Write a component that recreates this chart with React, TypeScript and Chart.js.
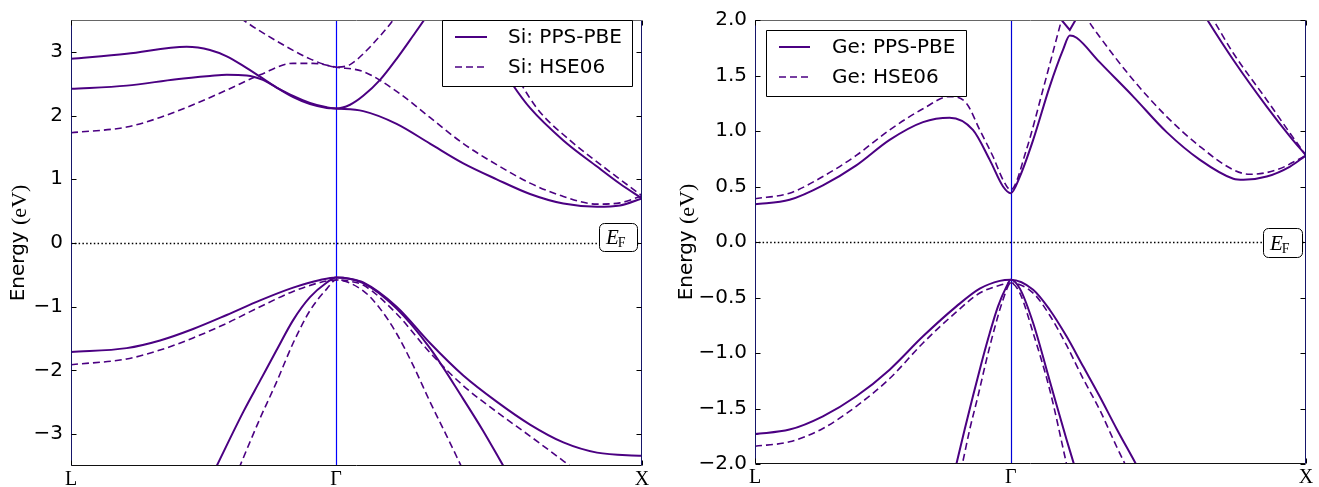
import React, { useEffect, useRef } from "react";
import { Chart, registerables } from "chart.js";

Chart.register(...registerables);

type Pt = [number, number];

// ---- k-path (L -> Gamma -> X) ----
const K_MAX = 1.866;
const X_TICKS = [0, 0.866, 1.866];
const X_TICK_LABELS = ["L", "Γ", "X"];

// ---- y ticks ----
const SI_Y_TICKS = [-3, -2, -1, 0, 1, 2, 3];
const SI_Y_TICK_LABELS = ["−3", "−2", "−1", "0", "1", "2", "3"];
const GE_Y_TICKS = [-2, -1.5, -1, -0.5, 0, 0.5, 1, 1.5, 2];
const GE_Y_TICK_LABELS = ["−2.0", "−1.5", "−1.0", "−0.5", "0.0", "0.5", "1.0", "1.5", "2.0"];

// ---- Si : PPS-PBE (solid) ----  L-Γ segments (…_LG) and Γ-X segments (…_GX)
const SI_PBE_C1_LG: Pt[] = [[0, 2.89], [0.182, 2.97], [0.378, 3.08], [0.454, 3.03], [0.509, 2.93], [0.563, 2.78], [0.618, 2.61], [0.672, 2.44], [0.726, 2.29], [0.781, 2.18], [0.836, 2.12], [0.866, 2.11]];
const SI_PBE_C1_GX: Pt[] = [[0.955, 2.07], [1.064, 1.87], [1.173, 1.56], [1.282, 1.25], [1.391, 1.0], [1.5, 0.77], [1.609, 0.62], [1.719, 0.57], [1.794, 0.59], [1.866, 0.7]];
const SI_PBE_C2_LG: Pt[] = [[0, 2.42], [0.182, 2.47], [0.345, 2.57], [0.454, 2.62], [0.509, 2.64], [0.574, 2.63], [0.627, 2.56], [0.672, 2.44], [0.726, 2.31], [0.781, 2.2], [0.836, 2.13], [0.866, 2.11]];
const SI_PBE_C2_GX: Pt[] = [[0.912, 2.17], [0.955, 2.31], [1.01, 2.56], [1.064, 2.89], [1.119, 3.26], [1.154, 3.5], [1.2, 3.83]];
const SI_PBE_C3: Pt[] = [[1.28, 3.8], [1.317, 3.5], [1.391, 2.89], [1.444, 2.48], [1.5, 2.12], [1.609, 1.61], [1.719, 1.2], [1.794, 0.93], [1.866, 0.7]];
const SI_PBE_V1_LG: Pt[] = [[0, -1.71], [0.182, -1.65], [0.291, -1.53], [0.399, -1.35], [0.509, -1.13], [0.618, -0.9], [0.726, -0.7], [0.814, -0.58], [0.866, -0.54]];
const SI_PBE_V1_GX: Pt[] = [[0.91, -0.56], [0.955, -0.62], [1.064, -1.0], [1.173, -1.57], [1.282, -2.08], [1.391, -2.49], [1.5, -2.85], [1.609, -3.13], [1.719, -3.29], [1.866, -3.34]];
const SI_PBE_V2_LG: Pt[] = [[0.4, -4.25], [0.476, -3.5], [0.563, -2.65], [0.618, -2.16], [0.672, -1.68], [0.726, -1.21], [0.781, -0.85], [0.836, -0.62], [0.866, -0.54]];
const SI_PBE_V2_GX: Pt[] = [[0.955, -0.63], [1.064, -1.03], [1.173, -1.65], [1.282, -2.45], [1.347, -2.95], [1.413, -3.5], [1.48, -4.05]];

// ---- Si : HSE06 (dashed) ----
const SI_HSE_C1_LG: Pt[] = [[0, 1.73], [0.182, 1.82], [0.291, 1.97], [0.399, 2.17], [0.509, 2.4], [0.618, 2.64], [0.726, 2.82], [0.791, 2.82], [0.866, 2.76]];
const SI_HSE_C1_GX: Pt[] = [[0.955, 2.69], [1.064, 2.38], [1.173, 1.97], [1.282, 1.56], [1.391, 1.23], [1.5, 0.94], [1.609, 0.73], [1.719, 0.61], [1.794, 0.63], [1.866, 0.74]];
const SI_HSE_C2_LG: Pt[] = [[0.47, 3.85], [0.563, 3.5], [0.672, 3.17], [0.781, 2.89], [0.836, 2.79], [0.866, 2.76]];
const SI_HSE_C2_GX: Pt[] = [[0.912, 2.8], [0.955, 2.97], [1.01, 3.25], [1.053, 3.5], [1.1, 3.85]];
const SI_HSE_C3: Pt[] = [[1.3, 3.85], [1.353, 3.5], [1.424, 2.89], [1.522, 2.12], [1.631, 1.61], [1.739, 1.2], [1.866, 0.74]];
const SI_HSE_V1_LG: Pt[] = [[0, -1.91], [0.182, -1.82], [0.291, -1.68], [0.399, -1.49], [0.509, -1.26], [0.618, -1.0], [0.726, -0.76], [0.814, -0.62], [0.866, -0.58]];
const SI_HSE_V1_GX: Pt[] = [[0.91, -0.6], [0.955, -0.66], [1.064, -1.11], [1.173, -1.72], [1.282, -2.24], [1.391, -2.65], [1.5, -3.03], [1.631, -3.5], [1.7, -3.75]];
const SI_HSE_V2_LG: Pt[] = [[0.48, -4.33], [0.552, -3.5], [0.618, -2.75], [0.672, -2.18], [0.726, -1.57], [0.781, -1.06], [0.836, -0.72], [0.866, -0.58]];
const SI_HSE_V2_GX: Pt[] = [[0.955, -0.75], [1.01, -1.03], [1.064, -1.42], [1.119, -1.93], [1.173, -2.49], [1.228, -3.03], [1.275, -3.5], [1.32, -3.95]];

// ---- Ge : PPS-PBE (solid) ----
const GE_PBE_C1_LG: Pt[] = [[0, 0.34], [0.117, 0.38], [0.23, 0.51], [0.343, 0.69], [0.456, 0.92], [0.569, 1.08], [0.659, 1.12], [0.738, 1.01], [0.795, 0.74], [0.84, 0.5], [0.866, 0.44]];
const GE_PBE_C1_GX: Pt[] = [[0.897, 0.59], [0.942, 0.92], [0.998, 1.4], [1.043, 1.73], [1.066, 1.86], [1.089, 1.84], [1.167, 1.62], [1.281, 1.31], [1.394, 0.99], [1.507, 0.74], [1.62, 0.57], [1.654, 0.56], [1.733, 0.59], [1.812, 0.68], [1.866, 0.78]];
const GE_PBE_C2: Pt[] = [[1.01, 2.09], [1.066, 1.91], [1.105, 2.09]];
const GE_PBE_C3: Pt[] = [[1.5, 2.14], [1.532, 2.0], [1.62, 1.64], [1.733, 1.22], [1.812, 0.95], [1.866, 0.78]];
const GE_PBE_V1_LG: Pt[] = [[0, -1.73], [0.117, -1.69], [0.23, -1.57], [0.343, -1.39], [0.456, -1.15], [0.569, -0.85], [0.682, -0.58], [0.761, -0.42], [0.829, -0.35], [0.866, -0.34]];
const GE_PBE_V1_GX: Pt[] = [[0.942, -0.43], [0.998, -0.61], [1.055, -0.85], [1.111, -1.12], [1.167, -1.39], [1.224, -1.68], [1.29, -2.0], [1.33, -2.2]];
const GE_PBE_V2_LG: Pt[] = [[0.64, -2.45], [0.682, -2.0], [0.71, -1.69], [0.738, -1.39], [0.767, -1.09], [0.795, -0.82], [0.823, -0.58], [0.852, -0.4], [0.866, -0.34]];
const GE_PBE_V2_GX: Pt[] = [[0.897, -0.42], [0.942, -0.73], [0.998, -1.25], [1.055, -1.78], [1.08, -2.0], [1.11, -2.28]];

// ---- Ge : HSE06 (dashed) ----
const GE_HSE_C1_LG: Pt[] = [[0, 0.39], [0.117, 0.44], [0.23, 0.59], [0.343, 0.78], [0.456, 1.01], [0.569, 1.2], [0.659, 1.31], [0.716, 1.25], [0.761, 1.01], [0.806, 0.77], [0.84, 0.56], [0.866, 0.47]];
const GE_HSE_C1_GX: Pt[] = [[0.919, 0.83], [0.976, 1.38], [1.021, 1.83], [1.038, 2.0], [1.06, 2.22]];
const GE_HSE_C2: Pt[] = [[1.1, 2.15], [1.128, 2.0], [1.167, 1.85], [1.281, 1.46], [1.394, 1.13], [1.507, 0.86], [1.62, 0.65], [1.676, 0.61], [1.767, 0.65], [1.866, 0.78]];
const GE_HSE_C3: Pt[] = [[1.52, 2.13], [1.552, 2.0], [1.62, 1.7], [1.733, 1.28], [1.812, 0.98], [1.866, 0.78]];
const GE_HSE_V1_LG: Pt[] = [[0, -1.84], [0.117, -1.8], [0.23, -1.68], [0.343, -1.48], [0.456, -1.23], [0.569, -0.91], [0.682, -0.63], [0.761, -0.46], [0.829, -0.39], [0.866, -0.37]];
const GE_HSE_V1_GX: Pt[] = [[0.942, -0.46], [0.998, -0.66], [1.055, -0.93], [1.111, -1.23], [1.167, -1.51], [1.224, -1.84], [1.253, -2.0], [1.29, -2.2]];
const GE_HSE_V2_LG: Pt[] = [[0.66, -2.45], [0.702, -2.0], [0.727, -1.69], [0.755, -1.39], [0.784, -1.06], [0.812, -0.77], [0.84, -0.52], [0.866, -0.37]];
const GE_HSE_V2_GX: Pt[] = [[0.897, -0.46], [0.942, -0.82], [0.998, -1.33], [1.055, -2.0], [1.08, -2.3]];

const PURPLE = "#4b0082";
const SANS = "'DejaVu Sans', sans-serif";
const SERIF = "'Liberation Serif', 'DejaVu Serif', serif";
const FS = 20;

function bandSets(bands: Pt[][], dashed: boolean, label: string, straight: number[] = []) {
  return bands.map((b, i) => ({
    label: i === 0 ? label : "",
    data: b.map(([x, y]) => ({ x, y })),
    showLine: true,
    borderColor: PURPLE,
    backgroundColor: PURPLE,
    borderWidth: dashed ? 1.6 : 2,
    borderDash: dashed ? [7, 4] : [],
    pointRadius: 0,
    cubicInterpolationMode: straight.includes(i) ? "default" : "monotone",
    tension: 0,
    fill: false,
    clip: 0,
  }));
}

type PanelCfg = {
  yMin: number;
  yMax: number;
  yTicks: number[];
  yTickLabels: string[];
  yAxisW: number;
  xAxisH: number;
  padTop: number;
  padRight: number;
  gammaColor: string;
  legendLabels: [string, string];
  legendBox: [number, number, number, number];
  legendLineX: [number, number];
  legendTextX: number;
  legendRowsY: [number, number];
  efBox: [number, number, number, number];
  yLabelX: number;
};

function decoPlugin(cfg: PanelCfg) {
  return {
    id: "deco",
    beforeDatasetsDraw(chart: any) {
      const ctx: CanvasRenderingContext2D = chart.ctx;
      const a = chart.chartArea;
      const xs = chart.scales.x;
      const ys = chart.scales.y;
      ctx.save();
      // Gamma line
      const gx = Math.round(xs.getPixelForValue(X_TICKS[1])) + 0.5;
      ctx.strokeStyle = cfg.gammaColor;
      ctx.lineWidth = 1.2;
      ctx.beginPath();
      ctx.moveTo(gx, a.top);
      ctx.lineTo(gx, a.bottom);
      ctx.stroke();
      // Fermi level (dotted)
      const fy = Math.round(ys.getPixelForValue(0)) + 0.5;
      ctx.strokeStyle = "#000";
      ctx.lineWidth = 1.3;
      ctx.setLineDash([1.5, 2.3]);
      ctx.beginPath();
      ctx.moveTo(a.left, fy);
      ctx.lineTo(a.right, fy);
      ctx.stroke();
      ctx.restore();
    },
    afterDatasetsDraw(chart: any) {
      const ctx: CanvasRenderingContext2D = chart.ctx;
      const a = chart.chartArea;
      const ys = chart.scales.y;
      const xs = chart.scales.x;
      ctx.save();
      ctx.setLineDash([]);
      ctx.lineWidth = 1;
      const L = Math.round(a.left) + 0.5, R = Math.round(a.right) - 0.5;
      const T = Math.round(a.top) + 0.5, B = Math.round(a.bottom) - 0.5;
      // frame
      ctx.strokeStyle = "#111";
      ctx.beginPath();
      ctx.moveTo(L, B); ctx.lineTo(R, B);
      ctx.stroke();
      ctx.strokeStyle = "#666";
      ctx.beginPath();
      ctx.moveTo(L, T); ctx.lineTo(R, T);
      ctx.stroke();
      ctx.strokeStyle = "#16166a";
      ctx.beginPath();
      ctx.moveTo(L, T); ctx.lineTo(L, B);
      ctx.moveTo(R, T); ctx.lineTo(R, B);
      ctx.stroke();
      // inward ticks
      ctx.strokeStyle = "#000";
      ctx.beginPath();
      cfg.yTicks.forEach((v) => {
        const y = Math.round(ys.getPixelForValue(v)) + 0.5;
        ctx.moveTo(L, y); ctx.lineTo(L + 5, y);
        ctx.moveTo(R, y); ctx.lineTo(R - 5, y);
      });
      [X_TICKS[0], X_TICKS[2]].forEach((v) => {
        const x = Math.round(xs.getPixelForValue(v)) + 0.5;
        ctx.moveTo(x, B); ctx.lineTo(x, B - 5);
        ctx.moveTo(x, T); ctx.lineTo(x, T + 5);
      });
      ctx.stroke();

      // E_F box
      const [ex, ey, ew, eh] = cfg.efBox;
      ctx.beginPath();
      ctx.roundRect(ex + 0.5, ey + 0.5, ew, eh, 5);
      ctx.fillStyle = "#fff";
      ctx.fill();
      ctx.strokeStyle = "#000";
      ctx.stroke();
      ctx.fillStyle = "#000";
      ctx.textBaseline = "alphabetic";
      ctx.textAlign = "left";
      ctx.font = `italic 21px ${SERIF}`;
      const ew1 = ctx.measureText("E").width;
      ctx.fillText("E", ex + 7, ey + eh / 2 + 7);
      ctx.font = `14px ${SERIF}`;
      ctx.fillText("F", ex + 7 + ew1 - 1, ey + eh / 2 + 10);

      // legend
      const [lx, ly, lw, lh] = cfg.legendBox;
      ctx.beginPath();
      ctx.rect(lx + 0.5, ly + 0.5, lw, lh);
      ctx.fillStyle = "#fff";
      ctx.fill();
      ctx.strokeStyle = "#000";
      ctx.lineWidth = 1;
      ctx.stroke();
      cfg.legendLabels.forEach((txt, i) => {
        const y = cfg.legendRowsY[i];
        ctx.beginPath();
        ctx.strokeStyle = PURPLE;
        ctx.lineWidth = i === 0 ? 2 : 1.6;
        ctx.setLineDash(i === 0 ? [] : [7, 4]);
        ctx.moveTo(cfg.legendLineX[0], y);
        ctx.lineTo(cfg.legendLineX[1], y);
        ctx.stroke();
        ctx.setLineDash([]);
        ctx.fillStyle = "#000";
        ctx.font = `${FS}px ${SANS}`;
        ctx.textBaseline = "middle";
        ctx.fillText(txt, cfg.legendTextX, y + 1);
      });

      // y axis label: "Energy (eV)"
      ctx.translate(cfg.yLabelX, (a.top + a.bottom) / 2);
      ctx.rotate(-Math.PI / 2);
      ctx.textBaseline = "middle";
      ctx.fillStyle = "#000";
      ctx.font = `${FS}px ${SANS}`;
      const t1 = "Energy ";
      const w1 = ctx.measureText(t1).width;
      ctx.font = `22px ${SERIF}`;
      const t2 = "(eV)";
      const w2 = ctx.measureText(t2).width;
      const start = -(w1 + w2) / 2;
      ctx.font = `${FS}px ${SANS}`;
      ctx.fillText(t1, start, 0);
      ctx.font = `22px ${SERIF}`;
      ctx.fillText(t2, start + w1, 1);
      ctx.restore();
    },
  };
}

function makeChart(canvas: HTMLCanvasElement, cfg: PanelCfg, datasets: any[]) {
  return new Chart(canvas, {
    type: "scatter",
    data: { datasets: datasets as any },
    options: {
      responsive: false,
      animation: false,
      events: [],
      layout: { padding: { top: cfg.padTop, right: cfg.padRight, left: 0, bottom: 0 } },
      plugins: { legend: { display: false }, tooltip: { enabled: false } },
      scales: {
        x: {
          type: "linear",
          min: 0,
          max: K_MAX,
          afterBuildTicks: (s: any) => {
            s.ticks = X_TICKS.map((v) => ({ value: v }));
          },
          afterFit: (s: any) => {
            s.height = cfg.xAxisH;
          },
          ticks: {
            autoSkip: false,
            maxRotation: 0,
            padding: 2,
            color: "#000",
            font: { family: SERIF, size: FS },
            callback: (_v: any, i: number) => X_TICK_LABELS[i],
          },
          grid: { display: false, drawTicks: false },
          border: { display: false },
        },
        y: {
          type: "linear",
          min: cfg.yMin,
          max: cfg.yMax,
          afterBuildTicks: (s: any) => {
            s.ticks = cfg.yTicks.map((v) => ({ value: v }));
          },
          afterFit: (s: any) => {
            s.width = cfg.yAxisW;
          },
          ticks: {
            padding: 8,
            color: "#000",
            font: { family: SANS, size: FS },
            callback: (_v: any, i: number) => cfg.yTickLabels[i],
          },
          grid: { display: false, drawTicks: false },
          border: { display: false },
        },
      },
    } as any,
    plugins: [decoPlugin(cfg)],
  });
}

const SI_CFG: PanelCfg = {
  yMin: -3.5,
  yMax: 3.5,
  yTicks: SI_Y_TICKS,
  yTickLabels: SI_Y_TICK_LABELS,
  yAxisW: 71,
  xAxisH: 21,
  padTop: 10,
  padRight: 18,
  gammaColor: "#0000ff",
  legendLabels: ["Si: PPS-PBE", "Si: HSE06"],
  legendBox: [442, 20, 190, 66],
  legendLineX: [455, 487],
  legendTextX: 508,
  legendRowsY: [37, 67],
  efBox: [599, 223, 38, 28],
  yLabelX: 19,
};

const GE_CFG: PanelCfg = {
  yMin: -2,
  yMax: 2,
  yTicks: GE_Y_TICKS,
  yTickLabels: GE_Y_TICK_LABELS,
  yAxisW: 95,
  xAxisH: 23,
  padTop: 20,
  padRight: 13,
  gammaColor: "#0000d8",
  legendLabels: ["Ge: PPS-PBE", "Ge: HSE06"],
  legendBox: [106, 30, 200, 66],
  legendLineX: [119, 150],
  legendTextX: 172,
  legendRowsY: [47, 77],
  efBox: [603, 228, 39, 29],
  yLabelX: 27,
};

export default function App() {
  const siRef = useRef<HTMLCanvasElement>(null);
  const geRef = useRef<HTMLCanvasElement>(null);

  useEffect(() => {
    const si = makeChart(siRef.current!, SI_CFG, [
      ...bandSets(
        [
          [...SI_PBE_C1_LG, ...SI_PBE_C1_GX],
          [...SI_PBE_C2_LG, ...SI_PBE_C2_GX],
          SI_PBE_C3,
          [...SI_PBE_V1_LG, ...SI_PBE_V1_GX],
          [...SI_PBE_V2_LG, ...SI_PBE_V2_GX],
        ],
        false,
        "Si: PPS-PBE"
      ),
      ...bandSets(
        [
          [...SI_HSE_C1_LG, ...SI_HSE_C1_GX],
          [...SI_HSE_C2_LG, ...SI_HSE_C2_GX],
          SI_HSE_C3,
          [...SI_HSE_V1_LG, ...SI_HSE_V1_GX],
          [...SI_HSE_V2_LG, ...SI_HSE_V2_GX],
        ],
        true,
        "Si: HSE06"
      ),
    ]);
    const ge = makeChart(geRef.current!, GE_CFG, [
      ...bandSets(
        [
          [...GE_PBE_C1_LG, ...GE_PBE_C1_GX],
          GE_PBE_C2,
          GE_PBE_C3,
          [...GE_PBE_V1_LG, ...GE_PBE_V1_GX],
          [...GE_PBE_V2_LG, ...GE_PBE_V2_GX],
        ],
        false,
        "Ge: PPS-PBE",
        [1]
      ),
      ...bandSets(
        [
          [...GE_HSE_C1_LG, ...GE_HSE_C1_GX],
          GE_HSE_C2,
          GE_HSE_C3,
          [...GE_HSE_V1_LG, ...GE_HSE_V1_GX],
          [...GE_HSE_V2_LG, ...GE_HSE_V2_GX],
        ],
        true,
        "Ge: HSE06"
      ),
    ]);
    return () => {
      si.destroy();
      ge.destroy();
    };
  }, []);

  return (
    <div style={{ position: "absolute", left: 0, top: 0, width: 1319, height: 487, background: "#fff" }}>
      <canvas ref={siRef} width={660} height={487} style={{ position: "absolute", left: 0, top: 0 }} />
      <canvas ref={geRef} width={659} height={487} style={{ position: "absolute", left: 660, top: 0 }} />
    </div>
  );
}
